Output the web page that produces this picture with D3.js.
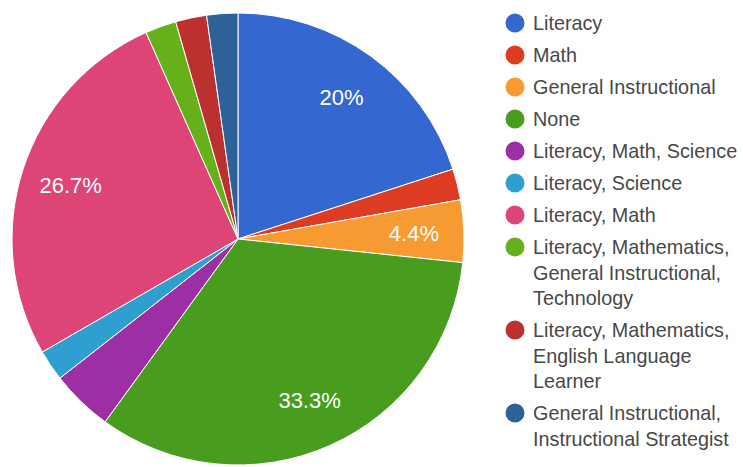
<!DOCTYPE html>
<html>
<head>
<meta charset="utf-8">
<script src="https://cdn.jsdelivr.net/npm/d3@7/dist/d3.min.js"></script>
<style>
  html, body { margin: 0; padding: 0; background: #fff; }
  svg { display: block; font-family: "Liberation Sans", Arial, sans-serif; }
</style>
</head>
<body>
<svg id="chart" width="743" height="467"></svg>
<script>
// Responses per category (45 responses in total)
const categories = [
  "Literacy",
  "Math",
  "General Instructional",
  "None",
  "Literacy, Math, Science",
  "Literacy, Science",
  "Literacy, Math",
  "Literacy, Mathematics, General Instructional, Technology",
  "Literacy, Mathematics, English Language Learner",
  "General Instructional, Instructional Strategist"
];
const counts = [9, 1, 2, 15, 2, 1, 12, 1, 1, 1];
const colors = ["#3467cf", "#dd3b22", "#f79a32", "#489c1e", "#9c2fa3",
                "#2f9fcf", "#dd4577", "#66b01c", "#bd3030", "#2d6198"];
// Legend text, wrapped into lines
const legendLines = [
  ["Literacy"],
  ["Math"],
  ["General Instructional"],
  ["None"],
  ["Literacy, Math, Science"],
  ["Literacy, Science"],
  ["Literacy, Math"],
  ["Literacy, Mathematics,", "General Instructional,", "Technology"],
  ["Literacy, Mathematics,", "English Language", "Learner"],
  ["General Instructional,", "Instructional Strategist"]
];
// Slices that carry a percentage label
const labeled = ["Literacy", "General Instructional", "None", "Literacy, Math"];

const svg = d3.select("#chart");
const cx = 238, cy = 239, radius = 226;

const data = categories.map((c, i) => ({ name: c, value: counts[i], color: colors[i], lines: legendLines[i] }));
const total = d3.sum(counts);

const pie = d3.pie().sort(null).value(d => d.value);
const arcs = pie(data);
const arc = d3.arc().innerRadius(0).outerRadius(radius);
const labelArc = d3.arc().innerRadius(176).outerRadius(176);

const g = svg.append("g").attr("transform", `translate(${cx},${cy})`);

g.selectAll("path.slice")
  .data(arcs)
  .join("path")
  .attr("class", "slice")
  .attr("d", arc)
  .attr("fill", d => d.data.color)
  .attr("stroke", "#fff")
  .attr("stroke-width", 1);

const fmtPct = v => {
  const s = d3.format(".1f")(v * 100);
  return (s.endsWith(".0") ? s.slice(0, -2) : s) + "%";
};

g.selectAll("text.pct")
  .data(arcs.filter(d => labeled.includes(d.data.name)))
  .join("text")
  .attr("class", "pct")
  .attr("transform", d => `translate(${labelArc.centroid(d)})`)
  .attr("text-anchor", "middle")
  .attr("dy", "0.36em")
  .attr("fill", "#fff")
  .attr("font-size", 22)
  .text(d => fmtPct(d.data.value / total));

// Legend
const legend = svg.append("g").attr("transform", "translate(515,23)");
const rowGap = 32, lineGap = 25.5;
let y = 0;
data.forEach(d => {
  const item = legend.append("g").attr("transform", `translate(0,${y})`);
  item.append("circle").attr("r", 9.5).attr("fill", d.color);
  d.lines.forEach((ln, k) => {
    item.append("text")
      .attr("x", 18)
      .attr("y", k * lineGap)
      .attr("dy", "0.36em")
      .attr("fill", "#484848")
      .attr("font-size", 19.8)
      .text(ln);
  });
  y += (d.lines.length - 1) * lineGap + rowGap;
});
</script>
</body>
</html>
